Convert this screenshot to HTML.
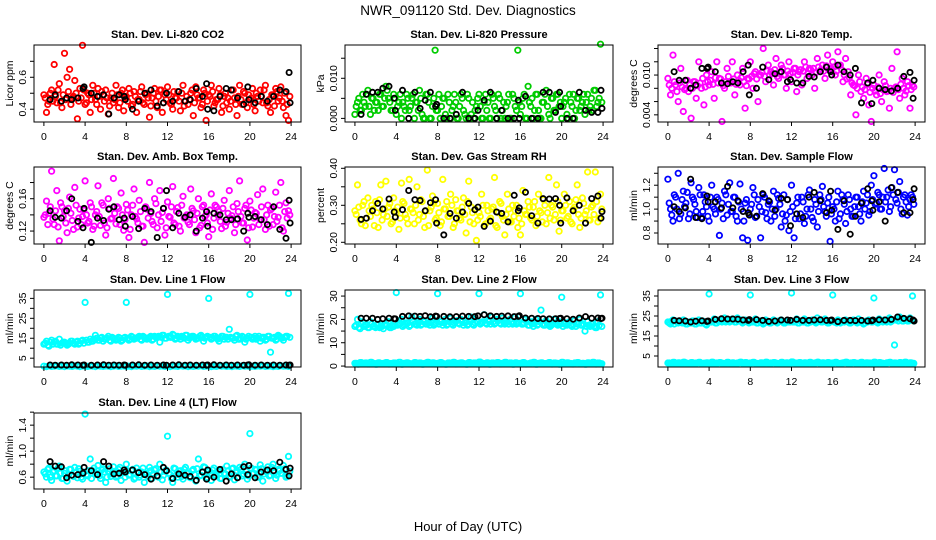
<!DOCTYPE html>
<html><head><meta charset="utf-8"><style>
html,body{margin:0;padding:0;background:#fff;}
svg{display:block;font-family:"Liberation Sans",Arial,sans-serif;}
</style></head><body>
<svg id="chart" width="936" height="540" viewBox="0 0 936 540">
<rect x="0" y="0" width="936" height="540" fill="#fff"/>
<text x="468" y="15" font-size="13.5" text-anchor="middle">NWR_091120  Std. Dev. Diagnostics</text>
<text x="468" y="531" font-size="13" text-anchor="middle">Hour of Day (UTC)</text>
</svg>
<script>
const hours=[0,0.25,0.5,0.75,1,1.25,1.5,1.75,2,2.25,2.5,2.75,3,3.25,3.5,3.75,4,4.25,4.5,4.75,5,5.25,5.5,5.75,6,6.25,6.5,6.75,7,7.25,7.5,7.75,8,8.25,8.5,8.75,9,9.25,9.5,9.75,10,10.25,10.5,10.75,11,11.25,11.5,11.75,12,12.25,12.5,12.75,13,13.25,13.5,13.75,14,14.25,14.5,14.75,15,15.25,15.5,15.75,16,16.25,16.5,16.75,17,17.25,17.5,17.75,18,18.25,18.5,18.75,19,19.25,19.5,19.75,20,20.25,20.5,20.75,21,21.25,21.5,21.75,22,22.25,22.5,22.75,23,23.25,23.5,23.75];
const hoursB=[0.125,0.375,0.625,0.875,1.125,1.375,1.625,1.875,2.125,2.375,2.625,2.875,3.125,3.375,3.625,3.875,4.125,4.375,4.625,4.875,5.125,5.375,5.625,5.875,6.125,6.375,6.625,6.875,7.125,7.375,7.625,7.875,8.125,8.375,8.625,8.875,9.125,9.375,9.625,9.875,10.125,10.375,10.625,10.875,11.125,11.375,11.625,11.875,12.125,12.375,12.625,12.875,13.125,13.375,13.625,13.875,14.125,14.375,14.625,14.875,15.125,15.375,15.625,15.875,16.125,16.375,16.625,16.875,17.125,17.375,17.625,17.875,18.125,18.375,18.625,18.875,19.125,19.375,19.625,19.875,20.125,20.375,20.625,20.875,21.125,21.375,21.625,21.875,22.125,22.375,22.625,22.875,23.125,23.375,23.625,23.875];
const blackHours=[0.6,1.1,1.7,2.2,2.7,3.3,3.8,3.9,4.6,5.2,5.8,6.3,6.8,7.3,7.8,7.9,8.6,9.2,9.8,10.4,11.0,11.6,11.9,12.5,13.1,13.7,14.2,14.8,15.4,15.8,15.9,16.5,17.1,17.7,18.2,18.8,19.4,19.8,19.9,20.5,21.1,21.7,22.3,22.9,23.5,23.8,23.9];
const xTicks=[0,4,8,12,16,20,24];

const co2=[.49,.38,.45,.52,.68,.44,.56,.41,.75,.60,.65,.47,.58,.34,.53,.80,.43,.50,.38,.55,.46,.53,.40,.49,.52,.37,.47,.44,.55,.41,.50,.39,.48,.53,.42,.51,.38,.46,.54,.43,.50,.35,.47,.53,.41,.52,.38,.49,.54,.44,.40,.47,.51,.39,.55,.45,.43,.50,.36,.54,.47,.41,.52,.33,.49,.55,.42,.46,.53,.38,.48,.44,.40,.52,.47,.36,.55,.43,.50,.41,.46,.53,.39,.48,.52,.44,.55,.42,.38,.49,.53,.45,.54,.41,.36,.33];
const co2B=[.47,.43,.50,.45,.48,.52,.44,.49,.46,.51,.43,.48,.50,.45,.47,.52,.44,.49,.46,.50,.43,.48,.51,.45,.47,.42,.50,.46,.49,.44,.52,.47,.45,.50,.43,.48,.46,.51,.44,.49,.47,.42,.50,.45,.48,.52,.44,.46,.49,.43,.51,.47,.45,.50,.42,.48,.46,.52,.44,.49,.47,.43,.50,.45,.48,.51,.44,.46,.49,.42,.50,.47,.45,.52,.43,.48,.46,.51,.44,.49,.47,.43,.50,.45,.48,.52,.44,.46,.49,.42,.51,.47,.45,.50,.43,.48];
const co2Ref=[.46,.49,.45,.47,.46,.47,.53,.54,.50,.48,.49,.37,.47,.49,.48,.46,.40,.45,.50,.52,.42,.44,.50,.45,.51,.45,.46,.53,.48,.56,.40,.39,.48,.53,.52,.47,.43,.54,.46,.44,.48,.45,.48,.52,.51,.63,.44];
const pres=[.001,.004,.002,.006,.003,.007,.001,.005,.004,.002,.006,.003,.008,.005,.002,.006,.001,.004,.000,.003,.006,.002,.005,.000,.004,.007,.001,.000,.006,.000,.003,.017,.002,.000,.005,.001,.006,.000,.003,.004,.000,.006,.002,.000,.005,.001,.000,.003,.006,.000,.004,.002,.000,.006,.003,.000,.005,.002,.000,.004,.000,.006,.003,.017,.001,.005,.000,.008,.003,.000,.006,.002,.000,.004,.007,.001,.005,.002,.006,.003,.000,.004,.001,.006,.003,.000,.005,.002,.004,.001,.006,.003,.002,.007,.004,.0185];
const presB=[.003,.005,.002,.004,.006,.003,.005,.002,.004,.006,.003,.005,.007,.004,.002,.005,.003,.006,.004,.002,.005,.003,.006,.004,.002,.005,.000,.006,.004,.000,.005,.002,.006,.003,.005,.000,.004,.002,.006,.000,.003,.005,.001,.006,.000,.004,.002,.005,.003,.000,.006,.004,.000,.005,.002,.006,.000,.004,.003,.006,.000,.005,.002,.004,.003,.006,.000,.004,.005,.002,.006,.000,.004,.006,.003,.000,.005,.002,.006,.004,.003,.005,.000,.004,.006,.002,.005,.003,.006,.004,.002,.005,.007,.003,.005,.004];
const presRef=[.001,.006,.0065,.0065,.0075,.008,.005,.002,.007,.000,.0065,.0025,.0045,.0065,.003,.0035,.000,.000,.001,.0065,.000,.000,.002,.0045,.0065,.000,.002,.000,.000,.0045,.000,.0055,.000,.000,.0065,.0065,.0015,.0065,.003,.000,.000,.0065,.002,.0015,.0015,.007,.0025];
const liTemp=[.0095,.0070,.0130,.0085,.0060,.0110,.0045,.0080,.0075,.0035,.0090,.0065,.0120,.0080,.0055,.0100,.0085,.0105,.0065,.0120,.0095,.0030,.0080,.0110,.0090,.0120,.0070,.0100,.0085,.0110,.0050,.0095,.0120,.0080,.0105,.0060,.0100,.0140,.0090,.0115,.0105,.0085,.0125,.0095,.0115,.0100,.0080,.0120,.0090,.0110,.0075,.0105,.0085,.0120,.0095,.0110,.0100,.0080,.0125,.0105,.0115,.0095,.0130,.0110,.0120,.0100,.0135,.0115,.0090,.0125,.0105,.0070,.0085,.0040,.0100,.0075,.0065,.0095,.0055,.0030,.0085,.0070,.0100,.0060,.0090,.0075,.0050,.0110,.0080,.0135,.0065,.0095,.0070,.0090,.0050,.0085];
const liTempB=[.0085,.0080,.0090,.0075,.0088,.0082,.0078,.0092,.0086,.0080,.0090,.0084,.0088,.0095,.0082,.0090,.0092,.0086,.0096,.0088,.0094,.0084,.0090,.0098,.0088,.0094,.0086,.0092,.0096,.0090,.0084,.0094,.0098,.0102,.0094,.0100,.0104,.0098,.0106,.0100,.0102,.0108,.0098,.0104,.0110,.0100,.0106,.0102,.0104,.0110,.0100,.0108,.0106,.0112,.0102,.0108,.0110,.0104,.0112,.0108,.0106,.0114,.0108,.0110,.0112,.0106,.0114,.0108,.0100,.0094,.0096,.0088,.0084,.0080,.0090,.0082,.0078,.0086,.0074,.0080,.0076,.0082,.0072,.0078,.0084,.0076,.0080,.0074,.0082,.0078,.0086,.0080,.0076,.0084,.0078,.0082];
const liTempRef=[.0105,.0092,.0092,.0080,.0085,.0110,.0110,.0112,.0105,.0088,.0087,.0090,.0088,.0105,.0115,.0070,.0080,.0112,.0093,.0102,.0105,.0090,.0093,.0088,.0088,.0098,.0097,.0105,.0112,.0105,.0100,.0115,.0105,.0100,.0110,.0058,.0088,.0057,.0092,.0080,.0078,.0076,.0080,.0098,.0104,.0065,.0092];
const boxTemp=[.137,.157,.142,.194,.128,.170,.108,.150,.145,.118,.162,.133,.174,.125,.147,.138,.182,.130,.155,.122,.140,.176,.127,.152,.115,.160,.135,.185,.129,.148,.167,.121,.153,.112,.140,.172,.135,.158,.126,.106,.147,.180,.132,.160,.124,.170,.143,.115,.156,.137,.175,.128,.149,.120,.163,.138,.131,.172,.145,.118,.160,.127,.152,.140,.113,.166,.136,.150,.144,.123,.158,.131,.170,.139,.118,.154,.182,.130,.148,.109,.157,.125,.143,.165,.134,.172,.122,.152,.146,.128,.168,.137,.180,.120,.155,.145];
const boxTempB=[.140,.128,.150,.135,.145,.125,.155,.138,.130,.148,.142,.122,.152,.136,.128,.146,.140,.132,.150,.126,.144,.138,.155,.130,.124,.148,.136,.142,.150,.128,.140,.134,.146,.122,.152,.138,.130,.144,.126,.150,.136,.142,.128,.154,.140,.132,.148,.124,.138,.150,.130,.144,.126,.152,.136,.140,.128,.148,.134,.142,.124,.150,.138,.130,.146,.122,.152,.140,.132,.148,.126,.142,.136,.150,.128,.144,.138,.130,.152,.124,.146,.136,.142,.128,.150,.134,.140,.126,.148,.138,.132,.152,.124,.144,.136,.140];
const boxTempRef=[.145,.137,.136,.145,.160,.132,.124,.148,.106,.136,.133,.147,.150,.134,.136,.126,.138,.123,.148,.144,.112,.148,.170,.124,.142,.137,.140,.120,.136,.144,.126,.142,.140,.134,.134,.135,.120,.142,.137,.138,.134,.128,.150,.122,.111,.158,.130];
const rh=[.285,.355,.260,.300,.245,.320,.270,.290,.310,.240,.355,.275,.365,.295,.250,.320,.280,.235,.360,.305,.265,.370,.290,.250,.350,.275,.310,.240,.395,.285,.325,.260,.305,.245,.370,.290,.270,.330,.240,.315,.285,.260,.320,.225,.365,.295,.250,.205,.280,.330,.245,.300,.260,.290,.375,.240,.310,.270,.220,.330,.255,.300,.285,.240,.220,.340,.275,.310,.265,.295,.245,.330,.280,.315,.250,.375,.300,.260,.355,.230,.285,.330,.265,.310,.250,.295,.355,.240,.320,.275,.390,.260,.300,.390,.255,.330];
const rhB=[.275,.295,.250,.310,.265,.285,.300,.245,.280,.315,.260,.290,.270,.305,.255,.285,.295,.265,.310,.275,.250,.290,.280,.300,.260,.315,.270,.285,.245,.295,.305,.265,.280,.255,.290,.310,.270,.300,.250,.285,.265,.295,.275,.310,.255,.280,.290,.260,.270,.300,.250,.285,.265,.295,.245,.280,.305,.260,.275,.290,.255,.270,.300,.265,.250,.285,.275,.295,.260,.310,.270,.285,.255,.300,.280,.265,.295,.275,.310,.260,.285,.300,.270,.255,.290,.315,.275,.265,.305,.285,.260,.295,.275,.310,.265,.290];
const rhRef=[.262,.265,.285,.305,.290,.317,.282,.268,.288,.340,.315,.313,.285,.307,.315,.252,.220,.278,.265,.282,.305,.288,.295,.243,.257,.282,.278,.255,.327,.285,.293,.335,.272,.252,.318,.317,.318,.300,.252,.320,.285,.300,.252,.318,.325,.265,.283];
const sflow=[1.25,1.00,0.90,1.10,1.30,0.96,1.15,1.05,0.92,1.22,1.08,0.98,1.18,0.93,1.12,1.02,0.90,1.20,1.00,1.10,0.78,1.05,1.15,0.95,1.22,0.98,1.10,0.90,1.21,0.76,1.05,0.74,1.00,1.18,0.93,1.08,0.76,1.12,0.97,1.04,0.90,1.15,1.00,1.09,0.85,1.12,0.95,0.82,1.20,0.76,1.05,0.92,1.10,0.88,1.00,1.16,0.93,1.08,0.85,1.12,1.19,0.98,1.05,0.73,1.02,0.90,1.15,0.96,1.08,0.88,1.12,1.00,0.94,1.10,1.02,0.90,1.15,1.05,0.95,1.20,1.28,1.05,1.12,1.00,1.34,1.10,0.98,1.18,1.33,1.05,1.23,0.96,1.12,0.95,1.08,1.10];
const sflowB=[1.05,0.95,1.12,1.00,0.92,1.08,1.02,1.14,0.96,1.10,1.04,0.93,1.12,0.98,1.06,0.94,1.10,1.02,0.96,1.08,1.00,0.92,1.12,1.04,0.98,1.10,0.94,1.06,1.00,0.90,1.08,0.96,1.04,1.12,0.94,1.02,0.98,1.10,0.92,1.06,1.00,0.94,1.12,1.04,0.96,0.90,1.08,0.98,1.02,0.92,1.10,0.96,1.06,0.94,1.12,1.00,0.90,1.04,0.98,1.08,1.02,0.94,1.10,0.96,1.00,1.06,0.92,1.12,1.04,0.98,1.08,0.94,1.02,1.10,0.96,1.06,1.00,1.12,0.98,1.08,1.04,1.14,1.00,1.10,1.06,1.16,1.02,1.12,1.08,1.14,1.00,1.10,1.06,1.02,1.12,1.04];
const sflowRef=[1.02,0.98,1.01,1.25,0.93,0.92,1.11,1.06,1.06,1.01,1.19,1.01,1.07,0.98,0.97,0.95,0.94,1.13,1.07,0.99,1.09,1.08,0.86,0.96,0.93,1.10,1.14,1.07,0.97,1.15,0.99,0.83,1.07,0.79,0.94,1.05,1.17,1.07,0.99,1.06,0.90,1.18,1.14,0.97,0.97,1.08,1.17];
const line1=[12,13.5,11,14,13,12,14.5,12.5,13,11.5,12.5,13.5,12,13.5,12.5,14,33,13,14.5,13.5,16.5,14,15,13.5,14.5,16,13.5,15,14,15.5,13.5,15,33,14,16,14.5,15,16,14,15.5,14.5,15.5,14,16,15.5,13,16.5,15,37,15.5,17,14.5,16,14.5,15.5,16.5,14,15.5,16,14.5,15,16.5,13.5,15.5,35,14.5,16,15,13.5,16,14.5,15.5,19.5,15,14,16.5,14.5,16,13,15,37,14.5,16,15,13.5,15.5,14,16,8,15,14,16.5,15.5,14,16,37.5];
const line1B=[12.5,11.5,13,12,13.5,12,11.5,13,12.5,12,13.5,12.5,13,12,13.5,12.5,14,13,13.5,14.5,15,14,15.5,14.5,15,14,15.5,14.5,14.5,15,14,15.5,15,14.5,15.5,15,15.5,14.5,16,15,15,16,14.5,15.5,16,15.5,16.5,15,16,15.5,16.5,15,15.5,16,15,16.5,15,16,15.5,15,16,15.5,15,16,15.5,15,16,14.5,15,16,15.5,14.5,15.5,15,16,14.5,15,15.5,14.5,16,15.5,15,14.5,16,15,15.5,14.5,16,15,15.5,14.5,16,15,15.5,16,15.5];
const line1Low=[1.0,0.8,1.1,0.9,1.0,1.2,0.9,1.0,0.8,1.1,1.0,0.9,1.2,1.0,0.8,1.1,1.0,0.9,1.1,1.0,0.8,1.2,1.0,0.9,1.1,1.0,0.8,1.0,1.2,0.9,1.0,1.1,0.9,1.0,0.8,1.1,1.0,1.2,0.9,1.0,1.1,0.8,1.0,0.9,1.2,1.0,1.1,0.9,1.0,0.8,1.1,1.0,0.9,1.2,1.0,1.1,0.8,1.0,0.9,1.1,1.0,1.2,0.9,1.0,1.1,0.8,1.0,0.9,1.2,1.0,1.1,0.9,1.0,0.8,1.1,1.0,0.9,1.2,1.0,1.1,0.8,1.0,0.9,1.1,1.0,1.2,0.9,1.0,1.1,0.8,1.0,0.9,1.2,1.0,1.1,0.9];
const line1Ref=[1.6,1.5,1.6,1.5,1.7,1.6,1.5,1.6,1.5,1.6,1.7,1.5,1.6,1.5,1.6,1.5,1.6,1.7,1.5,1.6,1.5,1.6,1.5,1.6,1.7,1.5,1.6,1.5,1.6,1.5,1.6,1.7,1.5,1.6,1.5,1.6,1.5,1.6,1.7,1.5,1.6,1.5,1.6,1.5,1.6,1.5,1.6];
const line2=[17,20,16,19,17.5,16.5,19,17,16.5,18,17,16,17.5,19,16.5,17,31.5,18,20,17.5,18.5,17,21,18,17.5,20,18,19,18,17.5,20.5,18,31,19,17.5,20,18,20.5,17.5,19,18.5,20,17.5,19,18,21,17.5,19.5,31,18.5,22,18,19,21,18,20,18.5,20.5,18,19,20,18,21,18.5,31,18,20,17.5,19,17,20,18,24,17.5,19.5,18,17.5,20,18,19,29.5,18,17.5,19,17,19.5,18,20,17.5,15,19,17,18,16.5,19,30.5];
const line2B=[17.5,16.5,18,17,17.5,16.5,18,17,17.5,16.5,17,18,17.5,16.5,17,18,17.5,18.5,17,18,18.5,17.5,19,18,18.5,17.5,19,18,18.5,19,17.5,18.5,18,19,18.5,17.5,19,18,18.5,19.5,18,19,18.5,17.5,19,18,18.5,19,18,19,18.5,19.5,18,19,18.5,19.5,18,19,18.5,18,19,18.5,18,19,18,18.5,19,17.5,18,18.5,17.5,19,18,17.5,18.5,17,18,18.5,17.5,18,17,18.5,18,17.5,18,17,18.5,17.5,18,17,17.5,18,17,16.5,17.5,17];
const line2Low=[1.2,0.8,1.5,1.0,1.3,0.9,1.6,1.1,0.8,1.4,1.0,1.2,1.5,0.9,1.1,1.3,1.0,1.6,0.8,1.2,1.4,1.0,0.9,1.5,1.1,1.3,0.8,1.2,1.6,1.0,1.4,0.9,1.2,1.5,1.0,0.8,1.3,1.1,1.6,0.9,1.2,1.4,1.0,0.8,1.5,1.1,1.3,0.9,1.7,1.2,1.0,1.4,0.8,1.3,1.1,1.5,0.9,1.2,1.6,1.0,1.3,0.8,1.4,1.1,1.2,1.5,0.9,1.0,1.3,1.6,0.8,1.2,1.4,1.0,1.1,1.5,0.9,1.3,1.2,0.8,1.6,1.0,1.4,1.1,0.9,1.3,1.5,1.0,1.2,0.8,1.4,1.1,1.6,0.9,1.3,1.0];
const line2Ref=[20.5,20.5,20.5,20.0,20.3,20.5,20.3,20.2,21.3,21.5,21.4,21.3,21.6,21.1,21.4,21.3,21.3,21.1,21.2,21.4,21.3,21.2,21.5,22.0,21.5,21.3,21.4,21.5,21.2,21.3,21.6,20.6,20.5,20.4,20.3,20.2,20.3,20.4,20.5,20.3,20.1,20.6,21.2,20.5,20.6,20.4,20.5];
const line3=[22,21,23,22.5,21.5,22,23,21,22,21.5,22.5,21,23,21.5,22,20.5,36,22,23.5,21.5,23,22,24,22.5,22,23.5,22,24,22.5,21.5,23,22,35.5,22,23.5,21.5,22.5,21,23,22,21.5,23,22,22.5,23,21.5,22.5,22,36.5,22,23.5,21.5,22.5,23.5,21.5,22.5,23,22,24,22.5,22,23.5,21.5,22.5,35.5,22,23,21.5,22.5,23,22,21.5,23,22,23.5,22,21,22.5,23,22,34,22,23.5,22.5,23,22,24,22.5,10.5,23.5,24.5,22.5,23.5,22.5,24,35];
const line3B=[21.5,22.5,21,22,22.5,21.5,22,21,21.5,22.5,21,22,21.5,22.5,21,22,22,22.5,21.5,22.5,22.5,23,22,23,22.5,23,22,22.5,23,22,22.5,21.5,22,22.5,21.5,22.5,22,21.5,22.5,21.5,22,22.5,21.5,22.5,22,21.5,22.5,22,22,22.5,21.5,22.5,22,22.5,21.5,22,22.5,21.5,22.5,22,22.5,22,21.5,22.5,22,21.5,22.5,22,22,22.5,21.5,22,22.5,21.5,22,22.5,21.5,22,22.5,22,22.5,21.5,22.5,22,22.5,23,22,23,23,22.5,23.5,22.5,23,22.5,23,22.5];
const line3Low=[1.5,1.1,1.8,1.3,1.6,1.2,1.9,1.4,1.1,1.7,1.3,1.5,1.8,1.2,1.4,1.6,1.3,1.9,1.1,1.5,1.7,1.3,1.2,1.8,1.4,1.6,1.1,1.5,1.9,1.3,1.7,1.2,1.5,1.8,1.3,1.1,1.6,1.4,1.9,1.2,1.5,1.7,1.3,1.1,1.8,1.4,1.6,1.2,2.0,1.5,1.3,1.7,1.1,1.6,1.4,1.8,1.2,1.5,1.9,1.3,1.6,1.1,1.7,1.4,1.5,1.8,1.2,1.3,1.6,1.9,1.1,1.5,1.7,1.3,1.4,1.8,1.2,1.6,1.5,1.1,1.9,1.3,1.7,1.4,1.2,1.6,1.8,1.3,1.5,1.1,1.7,1.4,1.9,1.2,1.6,1.3];
const line3Ref=[22.8,22.6,22.5,22.0,22.4,22.6,22.3,22.5,23.3,23.6,23.5,23.5,23.4,23.0,22.8,23.2,23.2,22.8,22.3,22.5,23.0,23.0,22.8,23.3,22.8,22.8,23.0,23.1,22.8,22.8,23.0,22.2,22.8,22.8,22.7,22.8,22.5,22.6,23.0,23.1,23.0,23.3,24.5,23.8,23.6,23.0,22.5];
const line4=[.68,.60,.74,.55,.70,.62,.77,.58,.66,.54,.72,.63,.75,.59,.69,.57,1.57,.62,.88,.70,.64,.78,.58,.73,.52,.69,.61,.76,.60,.72,.55,.67,.80,.63,.70,.57,.74,.60,.68,.52,.65,.75,.58,.71,.62,.80,.56,.69,1.23,.64,.52,.73,.60,.70,.57,.75,.66,.59,.72,.54,.88,.63,.76,.58,.69,.55,.74,.62,.71,.58,.66,.77,.60,.73,.56,.70,.75,.62,.80,.57,1.27,.66,.72,.60,.79,.54,.70,.76,.63,.80,.58,.72,.66,.78,.60,.92];
const line4B=[.65,.72,.60,.68,.62,.74,.66,.58,.70,.64,.72,.61,.67,.73,.60,.68,.64,.70,.58,.74,.66,.62,.71,.68,.60,.73,.65,.69,.62,.75,.67,.60,.70,.64,.72,.59,.68,.63,.74,.66,.61,.70,.65,.73,.60,.68,.63,.71,.66,.58,.74,.64,.69,.61,.72,.66,.60,.70,.64,.73,.62,.68,.75,.60,.66,.71,.63,.69,.58,.72,.65,.70,.61,.74,.67,.60,.72,.65,.69,.62,.74,.66,.71,.60,.73,.65,.68,.62,.75,.67,.63,.70,.66,.73,.61,.69];
const line4Ref=[.84,.77,.76,.59,.63,.64,.66,.75,.70,.64,.84,.77,.65,.66,.71,.68,.71,.67,.64,.57,.62,.75,.70,.58,.65,.63,.61,.55,.68,.57,.71,.60,.72,.54,.65,.59,.76,.64,.78,.59,.68,.71,.70,.83,.72,.62,.74];

const co2Ticks=[0.4,0.5,0.6,0.7], co2Labels=["0.4","","0.6",""];
const presTicks=[0,0.005,0.01,0.015], presLabels=["0.000","","0.010",""];
const liTempTicks=[0.004,0.006,0.008,0.010,0.012,0.014], liTempLabels=["0.004","","","0.010","",""];
const boxTicks=[0.12,0.14,0.16,0.18], boxLabels=["0.12","","0.16",""];
const rhTicks=[0.20,0.25,0.30,0.35,0.40], rhLabels=["0.20","","0.30","","0.40"];
const sflowTicks=[0.8,0.9,1.0,1.1,1.2,1.3], sflowLabels=["0.8","","1.0","","1.2",""];
const l1Ticks=[5,10,15,20,25,30,35], l1Labels=["5","","15","","25","","35"];
const l2Ticks=[0,5,10,15,20,25,30], l2Labels=["0","","10","","20","","30"];
const l3Ticks=[5,10,15,20,25,30,35], l3Labels=["5","","15","","25","","35"];
const l4Ticks=[0.6,0.8,1.0,1.2,1.4,1.6], l4Labels=["0.6","","1.0","","1.4",""];

const NS="http://www.w3.org/2000/svg";
const svg=document.getElementById('chart');
function mk(tag,attrs,parent){const e=document.createElementNS(NS,tag);for(const k in attrs)e.setAttribute(k,attrs[k]);(parent||svg).appendChild(e);return e;}

const panels=[
 {name:"li820-co2",title:"Stan. Dev. Li-820 CO2",ylab:"Licor ppm",col:0,row:0,ylim:[0.32,0.802],ticks:co2Ticks,labels:co2Labels,color:"#ff0000",series:[[hours,co2],[hoursB,co2B]],ref:co2Ref},
 {name:"li820-pressure",title:"Stan. Dev. Li-820 Pressure",ylab:"kPa",col:1,row:0,ylim:[-0.0009,0.0183],ticks:presTicks,labels:presLabels,color:"#00cc00",series:[[hours,pres],[hoursB,presB]],ref:presRef},
 {name:"li820-temp",title:"Stan. Dev. Li-820 Temp.",ylab:"degrees C",col:2,row:0,ylim:[0.00292,0.01453],ticks:liTempTicks,labels:liTempLabels,color:"#ff00ff",series:[[hours,liTemp],[hoursB,liTempB]],ref:liTempRef},
 {name:"amb-box-temp",title:"Stan. Dev. Amb. Box Temp.",ylab:"degrees C",col:0,row:1,ylim:[0.104,0.1992],ticks:boxTicks,labels:boxLabels,color:"#ff00ff",series:[[hours,boxTemp],[hoursB,boxTempB]],ref:boxTempRef},
 {name:"gas-stream-rh",title:"Stan. Dev. Gas Stream RH",ylab:"percent",col:1,row:1,ylim:[0.1954,0.4035],ticks:rhTicks,labels:rhLabels,color:"#ffff00",series:[[hours,rh],[hoursB,rhB]],ref:rhRef},
 {name:"sample-flow",title:"Stan. Dev. Sample Flow",ylab:"ml/min",col:2,row:1,ylim:[0.708,1.3525],ticks:sflowTicks,labels:sflowLabels,color:"#0000ff",series:[[hours,sflow],[hoursB,sflowB]],ref:sflowRef},
 {name:"line1-flow",title:"Stan. Dev. Line 1 Flow",ylab:"ml/min",col:0,row:2,ylim:[0.58,39.2],ticks:l1Ticks,labels:l1Labels,color:"#00ffff",series:[[hours,line1],[hoursB,line1B],[hours,line1Low]],ref:line1Ref},
 {name:"line2-flow",title:"Stan. Dev. Line 2 Flow",ylab:"ml/min",col:1,row:2,ylim:[-0.4,32.6],ticks:l2Ticks,labels:l2Labels,color:"#00ffff",series:[[hours,line2],[hoursB,line2B],[hours,line2Low],[hoursB,line2Low]],ref:line2Ref},
 {name:"line3-flow",title:"Stan. Dev. Line 3 Flow",ylab:"ml/min",col:2,row:2,ylim:[-0.5,38],ticks:l3Ticks,labels:l3Labels,color:"#00ffff",series:[[hours,line3],[hoursB,line3B],[hours,line3Low],[hoursB,line3Low]],ref:line3Ref},
 {name:"line4-flow",title:"Stan. Dev. Line 4 (LT) Flow",ylab:"ml/min",col:0,row:3,ylim:[0.418,1.587],ticks:l4Ticks,labels:l4Labels,color:"#00ffff",series:[[hours,line4],[hoursB,line4B]],ref:line4Ref}
];
const colX=[[34,301],[345,613],[658,925]];
const rowY=[[45,122],[167,244],[290,367],[413,489]];

panels.forEach(p=>{
  const [x0,x1]=colX[p.col],[y0,y1]=rowY[p.row];
  const g=mk('g',{});
  
  
  const xs=v=>x0+(x1-x0)*(v+0.96)/25.92;
  const ys=v=>y1-(y1-y0)*(v-p.ylim[0])/(p.ylim[1]-p.ylim[0]);
  const t=mk('text',{x:(x0+x1)/2,y:y0-7,'font-size':11,'font-weight':'bold','text-anchor':'middle'},g);
  t.textContent=p.title;
  
  
  const yl=mk('text',{x:0,y:0,'font-size':10.5,'text-anchor':'middle',transform:`translate(${x0-21},${(y0+y1)/2}) rotate(-90)`},g);
  yl.textContent=p.ylab;
  
  
  const pg=mk('g',{fill:'none','stroke-width':1.8},g);
  
  
  p.series.forEach(([hx,s])=>{
    for(let i=0;i<Math.min(s.length,hx.length);i++){
      const c=mk('circle',{cx:xs(hx[i]).toFixed(1),cy:ys(s[i]).toFixed(1),r:2.7,stroke:p.color},pg);
      
      
    }
  });
  for(let i=0;i<Math.min(p.ref.length,blackHours.length);i++){
    const c=mk('circle',{cx:xs(blackHours[i]).toFixed(1),cy:ys(p.ref[i]).toFixed(1),r:2.6,stroke:'#000'},pg);
    
    
  }
  const b=mk('rect',{x:x0,y:y0,width:x1-x0,height:y1-y0,fill:'none',stroke:'#000','stroke-width':1},g);
  
  
  xTicks.forEach(v=>{
    const x=xs(v);
    const tk=mk('line',{x1:x,x2:x,y1:y1,y2:y1+4,stroke:'#000'},g);
    
    
    const tl=mk('text',{x:x,y:y1+18,'font-size':10.5,'text-anchor':'middle'},g);
    tl.textContent=String(v);
    
    
  });
  p.ticks.forEach((v,i)=>{
    const y=ys(v);
    const tk=mk('line',{x1:x0-4,x2:x0,y1:y,y2:y,stroke:'#000'},g);
    
    
    if(p.labels[i]){
      const tl=mk('text',{x:0,y:0,'font-size':10.5,'text-anchor':'middle',transform:`translate(${x0-8},${y}) rotate(-90)`},g);
      tl.textContent=p.labels[i];
      
      
    }
  });
});
</script>
</body></html>
